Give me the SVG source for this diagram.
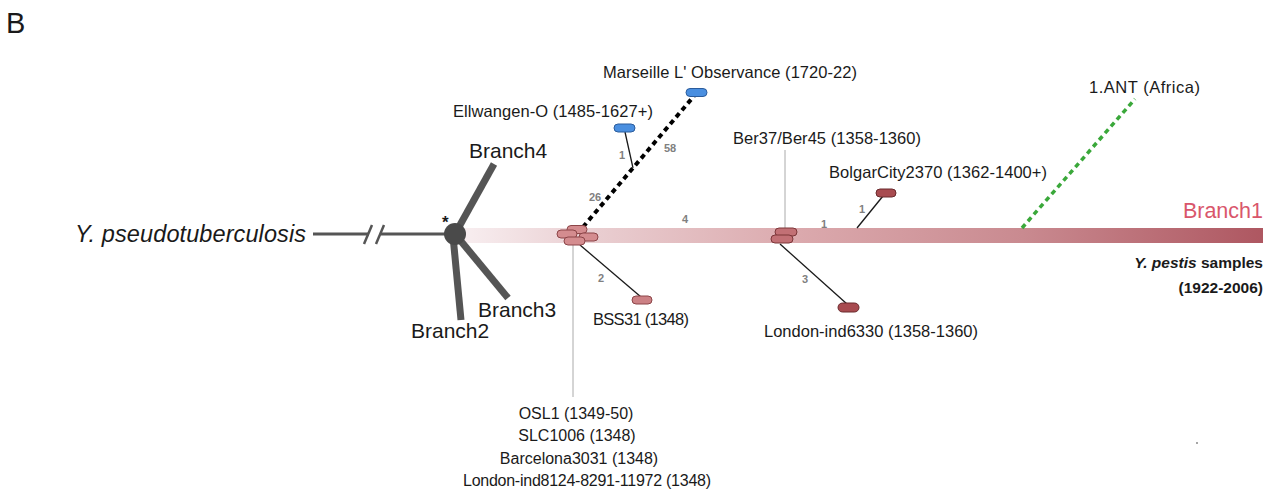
<svg xmlns="http://www.w3.org/2000/svg" width="1275" height="491" viewBox="0 0 1275 491">
<defs>
<linearGradient id="bar" x1="463" y1="0" x2="1263" y2="0" gradientUnits="userSpaceOnUse">
<stop offset="0" stop-color="#f8eef0"/>
<stop offset="0.17" stop-color="#e9cdd0"/>
<stop offset="0.42" stop-color="#dba9ad"/>
<stop offset="0.7" stop-color="#c98a90"/>
<stop offset="1" stop-color="#ae5761"/>
</linearGradient>
</defs>
<style>
text{font-family:"Liberation Sans",Arial,sans-serif;fill:#1a1a1a}
.lbl{font-size:16.5px}
.sub{font-size:16px}
.num{font-size:11px;fill:#808080;font-weight:bold}
.br{font-size:21px}
.stem{stroke:#555;stroke-width:7;stroke-linecap:butt}
.thin{stroke:#1a1a1a;stroke-width:1.3;fill:none}
.grey{stroke:#aaaaaa;stroke-width:1;fill:none}
.blue{fill:#4a8fe0;stroke:#2b5c9c;stroke-width:1}
.pink{fill:#d48c8f;stroke:#8c4548;stroke-width:1}
.mid{fill:#c27075;stroke:#7c3639;stroke-width:1}
.dark{fill:#a84b50;stroke:#6a2a2d;stroke-width:1}
</style>
<rect width="1275" height="491" fill="#ffffff"/>
<text x="6" y="33" style="font-size:29px">B</text>

<g id="connectors">
<rect x="463" y="228" width="800" height="15" fill="url(#bar)"/>
<line x1="313" y1="234" x2="369" y2="234" stroke="#555" stroke-width="3"/>
<line x1="381" y1="234" x2="450" y2="234" stroke="#555" stroke-width="3"/>
<line x1="364" y1="244" x2="372" y2="225" stroke="#555" stroke-width="2.5"/>
<line x1="376" y1="244" x2="384" y2="225" stroke="#555" stroke-width="2.5"/>
<line class="stem" x1="455" y1="234" x2="494" y2="164"/>
<line class="stem" x1="455" y1="234" x2="508" y2="298"/>
<line class="stem" x1="453" y1="236" x2="461" y2="320"/>
<line x1="583" y1="227" x2="694" y2="96" stroke="#000" stroke-width="4" stroke-dasharray="5 4"/>
<line class="thin" x1="625" y1="132" x2="633" y2="168"/>
<line x1="1022" y1="228" x2="1135" y2="99" stroke="#3aa83a" stroke-width="3.5" stroke-dasharray="5 4"/>
<line class="grey" x1="573" y1="244" x2="573" y2="397"/>
<line class="grey" x1="785" y1="228" x2="785" y2="150"/>
<line class="thin" x1="580" y1="245" x2="641" y2="297"/>
<line class="thin" x1="857" y1="228" x2="883" y2="196"/>
<line class="thin" x1="780" y1="244" x2="847" y2="304"/>
<text class="num" x="619" y="159">1</text>
<text class="num" x="664" y="152">58</text>
<text class="num" x="589" y="201">26</text>
<text class="num" x="682" y="223">4</text>
<text class="num" x="598" y="282">2</text>
<text class="num" x="821" y="228">1</text>
<text class="num" x="859" y="213">1</text>
<text class="num" x="802" y="283">3</text>
</g>

<g id="root">
<text x="75" y="242" textLength="231" style="font-size:23.5px;font-style:italic">Y. pseudotuberculosis</text>
<circle cx="455" cy="234" r="11" fill="#4a4a4a"/>
<text x="442" y="228" style="font-size:17px;font-weight:bold">*</text>
</g>
<g id="branch4"><text class="br" x="469" y="158">Branch4</text></g>
<g id="branch3"><text class="br" x="478" y="317">Branch3</text></g>
<g id="branch2"><text class="br" x="411" y="338">Branch2</text></g>
<g id="branch1">
<text x="1263" y="218" text-anchor="end" style="font-size:21.5px;fill:#d9566b">Branch1</text>
<text x="1263" y="268" text-anchor="end" style="font-size:15.5px;font-weight:bold"><tspan font-style="italic">Y. pestis</tspan> samples</text>
<text x="1263" y="293" text-anchor="end" style="font-size:15.5px;font-weight:bold">(1922-2006)</text>
</g>

<g id="cluster1348">
<rect class="pink" x="567" y="225.5" width="20" height="8" rx="4"/>
<rect class="pink" x="557" y="230" width="20" height="8" rx="4"/>
<rect class="pink" x="579" y="233" width="19" height="8" rx="4"/>
<rect class="pink" x="564" y="237" width="21" height="8" rx="4"/>
<text class="sub" x="576" y="419" text-anchor="middle">OSL1 (1349-50)</text>
<text class="sub" x="577" y="441" text-anchor="middle">SLC1006 (1348)</text>
<text class="sub" x="579" y="464" text-anchor="middle">Barcelona3031 (1348)</text>
<text class="sub" x="587" y="486" text-anchor="middle" textLength="248">London-ind8124-8291-11972 (1348)</text>
</g>
<g id="ellwangen">
<rect class="blue" x="614" y="124" width="21" height="8" rx="4"/>
<text class="lbl" x="453" y="117" textLength="200">Ellwangen-O (1485-1627+)</text>
</g>
<g id="marseille">
<rect class="blue" x="686" y="88.5" width="21" height="8" rx="4"/>
<text class="lbl" x="603" y="78" textLength="254">Marseille L' Observance (1720-22)</text>
</g>
<g id="bss31">
<rect class="pink" x="632" y="296" width="20" height="8" rx="4" style="fill:#cc8185"/>
<text class="lbl" x="593" y="325" textLength="96">BSS31 (1348)</text>
</g>
<g id="ber37">
<rect class="mid" x="775" y="228" width="22" height="8" rx="4"/>
<rect class="mid" x="771" y="235" width="22" height="8" rx="4"/>
<text class="lbl" x="733" y="144" textLength="188">Ber37/Ber45 (1358-1360)</text>
</g>
<g id="bolgar">
<rect class="dark" x="876" y="189" width="20" height="8" rx="4"/>
<text class="lbl" x="829" y="178" textLength="218">BolgarCity2370 (1362-1400+)</text>
</g>
<g id="london6330">
<rect class="dark" x="838" y="303" width="21" height="9" rx="4.5"/>
<text class="lbl" x="764" y="337" textLength="214">London-ind6330 (1358-1360)</text>
</g>
<g id="ant">
<text class="lbl" x="1089" y="93" textLength="111">1.ANT (Africa)</text>
</g>
<circle cx="1197" cy="443" r="1" fill="#888"/>
</svg>
